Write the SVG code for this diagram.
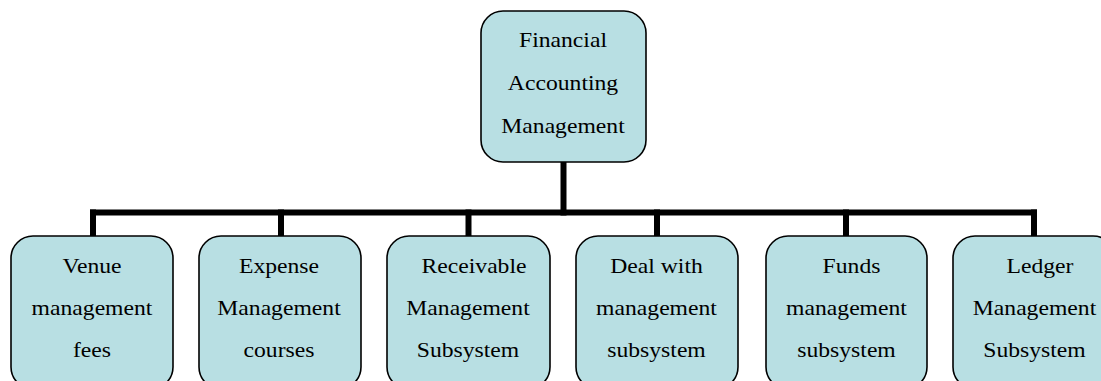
<svg xmlns="http://www.w3.org/2000/svg" width="1101" height="381" viewBox="0 0 1101 381">
<style>
.box{fill:#B8DFE3;stroke:#000;stroke-width:1.6}
.lbl{font-family:"Liberation Serif","Times New Roman",serif;font-size:21.7px;fill:#000;text-anchor:middle}
.con{stroke:#000;stroke-width:6;fill:none;stroke-linecap:square}
</style>
<rect width="1101" height="381" fill="#fff"/>
<g id="connectors">
<line class="con" x1="563.5" y1="162" x2="563.5" y2="212.5"/>
<line class="con" x1="93" y1="212.5" x2="1034" y2="212.5"/>
<line class="con" x1="93" y1="212.5" x2="93" y2="236"/>
<line class="con" x1="281" y1="212.5" x2="281" y2="236"/>
<line class="con" x1="468.5" y1="212.5" x2="468.5" y2="236"/>
<line class="con" x1="657" y1="212.5" x2="657" y2="236"/>
<line class="con" x1="846" y1="212.5" x2="846" y2="236"/>
<line class="con" x1="1034" y1="212.5" x2="1034" y2="236"/>
</g>
<g id="root">
<rect class="box" x="481" y="11" width="165" height="151" rx="22"/>
<text class="lbl" transform="translate(563,47) scale(1.09,1)">Financial</text>
<text class="lbl" transform="translate(563,90) scale(1.09,1)">Accounting</text>
<text class="lbl" transform="translate(563,133) scale(1.09,1)">Management</text>
</g>
<g id="venue">
<rect class="box" x="11" y="236" width="162" height="153" rx="22"/>
<text class="lbl" transform="translate(92,273) scale(1.09,1)">Venue</text>
<text class="lbl" transform="translate(92,315) scale(1.09,1)">management</text>
<text class="lbl" transform="translate(92,357) scale(1.09,1)">fees</text>
</g>
<g id="expense">
<rect class="box" x="199" y="236" width="162" height="153" rx="22"/>
<text class="lbl" transform="translate(279,273) scale(1.09,1)">Expense</text>
<text class="lbl" transform="translate(279,315) scale(1.09,1)">Management</text>
<text class="lbl" transform="translate(279,357) scale(1.09,1)">courses</text>
</g>
<g id="receivable">
<rect class="box" x="387" y="236" width="163" height="153" rx="22"/>
<text class="lbl" transform="translate(474,273) scale(1.09,1)">Receivable</text>
<text class="lbl" transform="translate(468,315) scale(1.09,1)">Management</text>
<text class="lbl" transform="translate(468,357) scale(1.09,1)">Subsystem</text>
</g>
<g id="deal">
<rect class="box" x="576" y="236" width="162" height="153" rx="22"/>
<text class="lbl" transform="translate(656.5,273) scale(1.09,1)">Deal with</text>
<text class="lbl" transform="translate(656.5,315) scale(1.09,1)">management</text>
<text class="lbl" transform="translate(656.5,357) scale(1.09,1)">subsystem</text>
</g>
<g id="funds">
<rect class="box" x="766" y="236" width="161" height="153" rx="22"/>
<text class="lbl" transform="translate(851.5,273) scale(1.09,1)">Funds</text>
<text class="lbl" transform="translate(846.5,315) scale(1.09,1)">management</text>
<text class="lbl" transform="translate(846.5,357) scale(1.09,1)">subsystem</text>
</g>
<g id="ledger">
<rect class="box" x="953" y="236" width="162" height="153" rx="22"/>
<text class="lbl" transform="translate(1040,273) scale(1.09,1)">Ledger</text>
<text class="lbl" transform="translate(1034.5,315) scale(1.09,1)">Management</text>
<text class="lbl" transform="translate(1034.5,357) scale(1.09,1)">Subsystem</text>
</g>
</svg>
